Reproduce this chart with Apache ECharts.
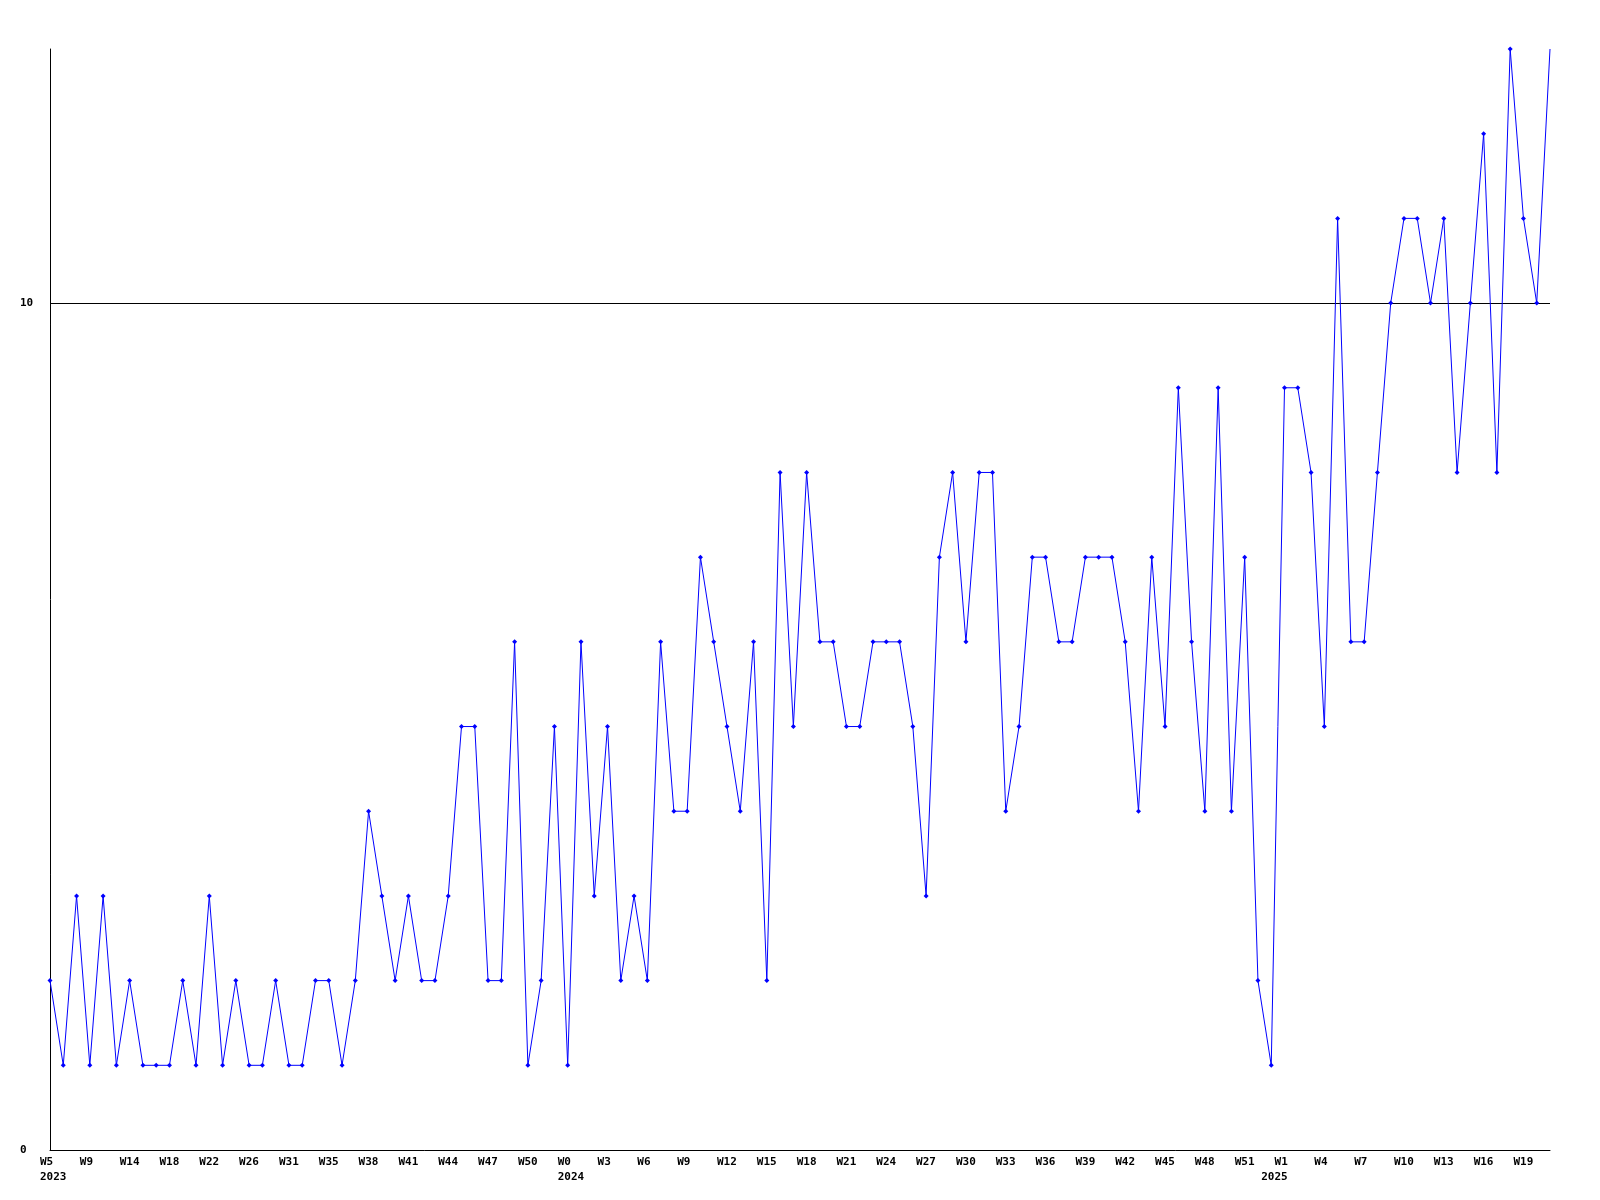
<!DOCTYPE html>
<html>
<head>
<meta charset="utf-8">
<script src="https://cdn.jsdelivr.net/npm/echarts@6/dist/echarts.min.js"></script>
<style>
  html, body { margin: 0; padding: 0; background: #ffffff; }
  #chart { width: 1600px; height: 1200px; }
</style>
</head>
<body>
<div id="chart"></div>
<script>
// Week categories (one per data point)
const weeks = [
  'W5','W6','W8','W9','W11','W12','W14','W15','W17','W18','W19','W21','W22','W23','W25','W26',
  'W28','W29','W31','W32','W34','W35','W36','W37','W38','W39','W40','W41','W42','W43','W44','W45',
  'W46','W47','W48','W49','W50','W51','W52',
  'W0','W1','W2','W3','W4','W5','W6','W7','W8','W9','W10','W11','W12','W13','W14','W15','W16','W17',
  'W18','W19','W20','W21','W22','W23','W24','W25','W26','W27','W28','W29','W30','W31','W32','W33',
  'W34','W35','W36','W37','W38','W39','W40','W41','W42','W43','W44','W45','W46','W47','W48','W49',
  'W50','W51','W52',
  'W0','W1','W2','W3','W4','W5','W6','W7','W8','W9','W10','W11','W12','W13','W14','W15','W16','W17',
  'W18','W19','W20','W21'
];
// Year label placed at the first week of each year (index -> year)
const yearStartIndex = [0, 39, 92];
const yearLabels = ['2023', '2024', '2025'];

// Values
const values = [
  2,1,3,1,3,1,2,1,1,1,2,1,3,1,2,1,1,2,1,1,2,2,1,2,4,3,2,3,2,2,3,5,5,2,2,6,1,2,5,1,
  6,3,5,2,3,2,6,4,4,7,6,5,4,6,2,8,5,8,6,6,5,5,6,6,6,5,3,7,8,6,8,8,4,5,7,7,6,6,7,7,
  7,6,4,7,5,9,6,4,9,4,7,2,1,9,9,8,5,11,6,6,8,10,11,11,10,11,8,10,12,8,13,11,10,13
];

// Y-axis tick values
const yTicks = [0, 10];

const categories = weeks.map((w, i) => i + ':' + w);

const chart = echarts.init(document.getElementById('chart'), null, { renderer: 'canvas' });
const font = 'DejaVu Sans Mono';
const labelBase = {
  align: 'left',
  padding: [0, 0, 0, -10],
  fontFamily: font,
  fontWeight: 'bold',
  fontSize: 11,
  lineHeight: 15,
  color: '#000000'
};
chart.setOption({
  animation: false,
  backgroundColor: '#ffffff',
  grid: { left: 50, right: 50, top: 49, bottom: 50, containLabel: false },
  xAxis: [{
    type: 'category',
    data: categories,
    boundaryGap: false,
    axisLine: { show: true, lineStyle: { color: '#000000', width: 1 } },
    axisTick: { show: false },
    splitLine: { show: false },
    axisLabel: Object.assign({}, labelBase, {
      interval: 2,
      margin: 5,
      formatter: function (val, idx) { return weeks[idx]; }
    })
  }, {
    type: 'category',
    data: categories,
    position: 'bottom',
    boundaryGap: false,
    axisLine: { show: false },
    axisTick: { show: false },
    splitLine: { show: false },
    axisLabel: Object.assign({}, labelBase, {
      interval: function (idx) { return yearStartIndex.indexOf(idx) >= 0; },
      margin: 20,
      formatter: function (val, idx) {
        const k = yearStartIndex.indexOf(idx);
        return k >= 0 ? yearLabels[k] : '';
      }
    })
  }],
  yAxis: {
    type: 'value',
    min: 0,
    max: 13,
    interval: 10,
    axisLine: { show: true, lineStyle: { color: '#000000', width: 1 } },
    axisTick: { show: false },
    splitLine: { show: true, showMinLine: false, showMaxLine: false, lineStyle: { color: '#000000', width: 1 } },
    axisLabel: {
      align: 'left',
      margin: 30,
      showMaxLabel: false,
      fontFamily: font,
      fontWeight: 'bold',
      fontSize: 11,
      color: '#000000',
      formatter: function (v) { return yTicks.indexOf(v) >= 0 ? String(v) : ''; }
    }
  },
  series: [{
    type: 'line',
    xAxisIndex: 0,
    data: values,
    symbol: function (v, p) { return p.dataIndex === values.length - 1 ? 'none' : 'diamond'; },
    symbolSize: 5,
    showAllSymbol: true,
    clip: true,
    lineStyle: { color: '#0000ff', width: 1 },
    itemStyle: { color: '#0000ff' }
  }]
});
</script>
</body>
</html>
